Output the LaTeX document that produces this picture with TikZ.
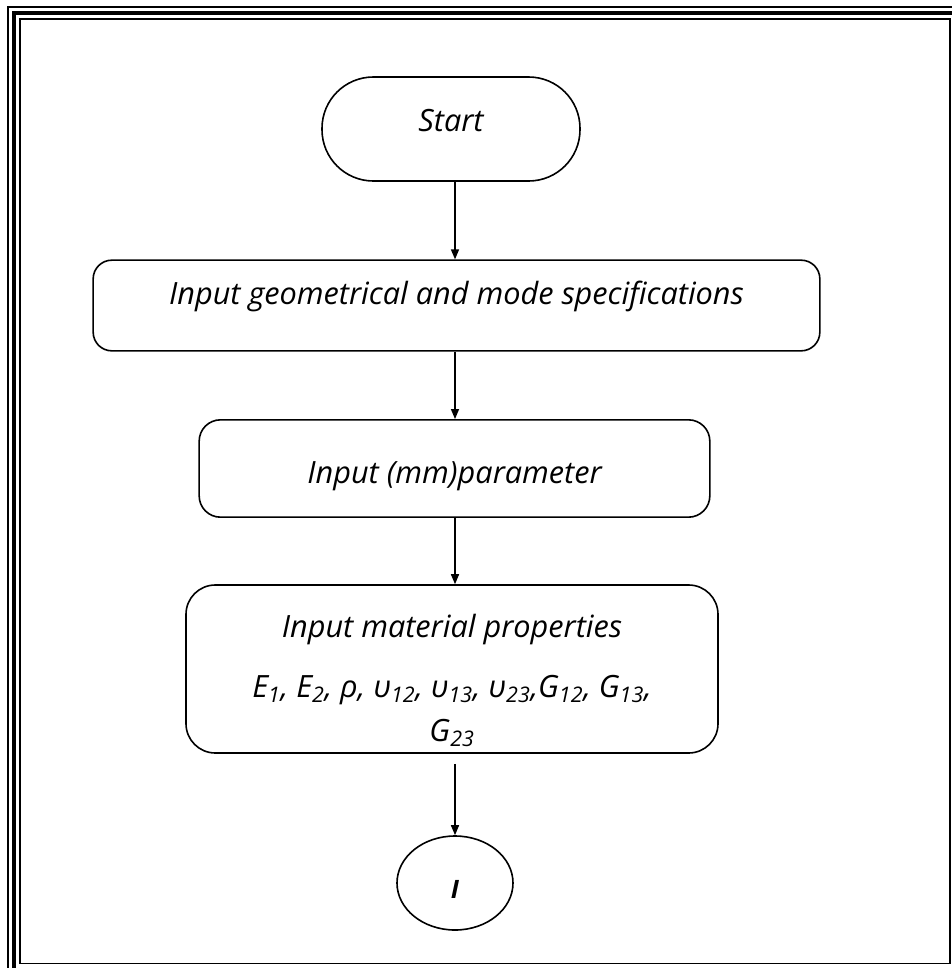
\documentclass[tikz,border=0pt]{standalone}
\usepackage{fontspec}
\setmainfont{Open Sans}
\usetikzlibrary{arrows.meta,shapes.geometric}
\tikzset{
  box/.style={draw, line width=1.2pt, rounded corners=#1, inner sep=0pt, align=center,
    font=\itshape\fontsize{23}{28}\selectfont},
  box/.default=14pt,
  lift/.style={text height=19.5pt, text depth=#1},
  flowline/.style={->, line width=1.1pt},
}
\begin{document}
\begin{tikzpicture}[x=0.75pt, y=-0.75pt, >={Triangle[length=7.5pt,width=6pt]}]
                \useasboundingbox (0,0) rectangle (952,968);
                \clip (0,0) rectangle (952,968);
                % frame
                \draw[line width=1.1pt] (8,7) rectangle (962,975.5);
                \draw[line width=3pt] (14,13) rectangle (956,969.5);
                \draw[line width=1.1pt] (20,19) rectangle (950,963.5);
                % steps
                \node[box=38.5pt, minimum width=193.5pt, minimum height=78pt, lift=16.5pt] (start) at (451,129) {Start};
                \node[box=14pt, minimum width=545pt, minimum height=68pt, lift=21pt] (geo) at (456.5,305.5) {Input geometrical and mode specifications};
                \node[box=16pt, minimum width=383pt, minimum height=73pt, lift=0pt, text height=23pt] (param) at (454.5,468.5) {Input (mm)parameter};
                \node[box=22pt, minimum width=399pt, minimum height=126pt] (mat) at (452,669) {\rule{0pt}{35pt}Input material properties\\[17pt]
                  E\textsubscript{1}, E\textsubscript{2}, ρ, υ\textsubscript{12}, υ\textsubscript{13}, υ\textsubscript{23},G\textsubscript{12}, G\textsubscript{13},\\[5pt]
                  G\textsubscript{23}};
                % connector
                \node[draw, ellipse, line width=1.2pt, inner sep=0pt, minimum width=87pt, minimum height=70.5pt,
                  text height=22.6pt, text depth=0pt,
                  font=\itshape\bfseries\fontsize{19}{22}\selectfont] (conn) at (455,883) {I};
                % arrows
                \coordinate (flow) at (455,0);
                \draw[flowline] (start.south -| flow) -- (geo.north -| flow);
                \draw[flowline] (geo.south -| flow) -- (param.north -| flow);
                \draw[flowline] (param.south -| flow) -- (mat.north -| flow);
                \draw[flowline, shorten <=7.5pt] (mat.south -| flow) -- (conn.north);
            \end{tikzpicture}
\end{document}
